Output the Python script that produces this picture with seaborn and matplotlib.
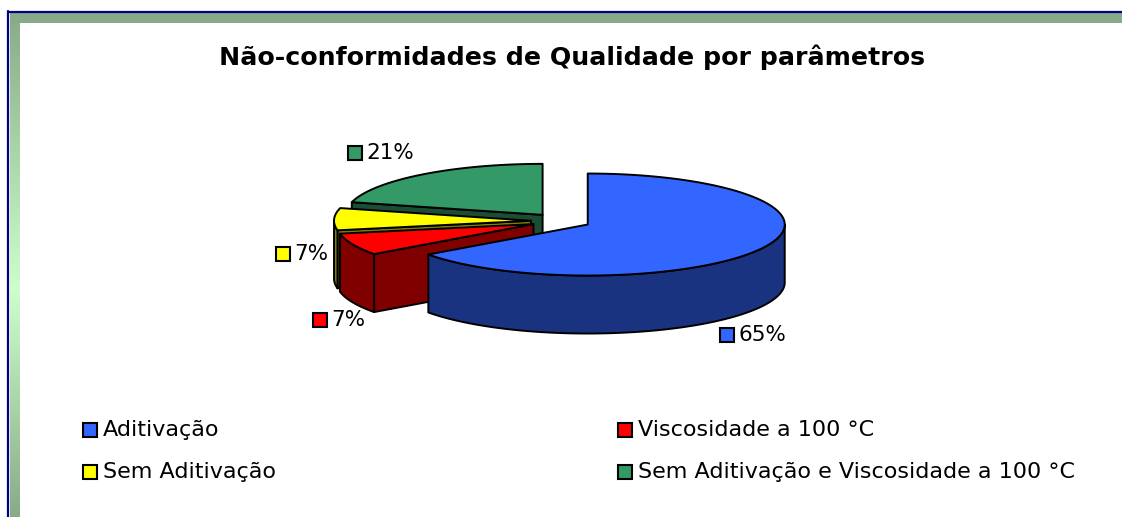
import numpy as np
import matplotlib
matplotlib.use("Agg")
import matplotlib.pyplot as plt
import seaborn as sns
from matplotlib.patches import Polygon, Rectangle

# chart data
categories = ["Aditivação", "Viscosidade a 100 °C", "Sem Aditivação",
              "Sem Aditivação e Viscosidade a 100 °C"]
shares = [65, 7, 7, 21]
top_colors = ["#3366FF", "#FF0000", "#FFFF00", "#339966"]
side_colors = ["#1A3380", "#800000", "#808000", "#1A4D33"]
title = "Não-conformidades de Qualidade por parâmetros"

sns.set_theme(style="white")
plt.rcParams["font.family"] = ["DejaVu Sans"]
plt.rcParams["text.color"] = "black"

W, H = 1122, 517
fig = plt.figure(figsize=(W / 100, H / 100), dpi=100)
ax = fig.add_axes([0, 0, 1, 1])

# --- frame (green bands with navy outline) ---
dark = np.array([0x88, 0xAA, 0x88]) / 255
light = np.array([0xCC, 0xFF, 0xCC]) / 255
ys = np.linspace(13, H, 300)
mid = 290
w = np.where(ys < mid, (ys - 13) / (mid - 13), (H - ys) / (H - mid))
col = dark[None, :] * (1 - w[:, None]) + light[None, :] * w[:, None]
ax.imshow(col[:, None, :], extent=[10, 20, H, 13], aspect="auto", zorder=1)
ax.add_patch(Rectangle((10, 13), W - 10, 10, color="#88AA88", lw=0, zorder=1))
ax.plot([8.5, 8.5], [11, H], color="#000080", lw=1.6, zorder=2)
ax.plot([8, W], [11.5, 11.5], color="#000080", lw=1.6, zorder=2)
ax.set_xlim(0, W)
ax.set_ylim(H, 0)
ax.axis("off")

ax.text(572, 57, title, ha="center", va="center", fontsize=18.2,
        fontweight="bold", color="black")

# --- 3D exploded pie ---
cx, cy = 561, 221      # common centre
rx, ry = 197, 51       # ellipse radii of top face
thick = 58             # depth of pie
explode = 30
k = ry / rx


def pt(x0, y0, deg):
    r = np.radians(deg)
    return x0 + rx * np.sin(r), y0 - ry * np.cos(r)


total = sum(shares)
starts = np.cumsum([0] + shares[:-1]) / total * 360
ends = np.cumsum(shares) / total * 360
mids = (starts + ends) / 2

order = np.argsort(-np.cos(np.radians(mids)))
edge = dict(edgecolor="black", lw=1.4, joinstyle="round")
for i in order:
    a, b, m = starts[i], ends[i], mids[i]
    mr = np.radians(m)
    x0 = cx + explode * np.sin(mr)
    y0 = cy - explode * k * np.cos(mr)
    # cut faces facing viewer
    for ang, vis in ((a, np.sin(np.radians(a)) < -1e-6),
                     (b, np.sin(np.radians(b)) > 1e-6)):
        if vis:
            px, py = pt(x0, y0, ang)
            ax.add_patch(Polygon([(x0, y0), (px, py), (px, py + thick), (x0, y0 + thick)],
                                 closed=True, facecolor=side_colors[i], zorder=3, **edge))
    # outer wall (front half only)
    wa, wb = max(a, 90), min(b, 270)
    if wb > wa:
        th = np.linspace(wa, wb, 80)
        xs, yt = pt(x0, y0, th)
        wall = list(zip(xs, yt)) + list(zip(xs[::-1], yt[::-1] + thick))
        ax.add_patch(Polygon(wall, closed=True, facecolor=side_colors[i], zorder=3, **edge))
    # top face
    th = np.linspace(a, b, 120)
    xs, yt = pt(x0, y0, th)
    ax.add_patch(Polygon([(x0, y0)] + list(zip(xs, yt)), closed=True,
                         facecolor=top_colors[i], zorder=3, **edge))

# --- data labels (layout: centre of each label box, in pixels) ---
label_centres = [(753, 335), (339, 320), (302, 254), (381, 153)]
fig.canvas.draw()
renderer = fig.canvas.get_renderer()
sq = 14
for i, (lx, ly) in enumerate(label_centres):
    t = ax.text(0, ly, f"{shares[i]}%", ha="left", va="center", fontsize=15.5, zorder=4)
    tw = t.get_window_extent(renderer).width
    x_start = lx - (sq + 4 + tw) / 2
    t.set_x(x_start + sq + 4)
    ax.add_patch(Rectangle((x_start, ly - sq / 2), sq, sq, facecolor=top_colors[i],
                           edgecolor="black", lw=1.5, zorder=4))

# --- legend (two columns, row-wise like the original) ---
leg_x = [83, 618]
leg_y = [430, 472]
for i, name in enumerate(categories):
    x = leg_x[i % 2]
    y = leg_y[i // 2]
    ax.add_patch(Rectangle((x, y - 7), 14, 14, facecolor=top_colors[i],
                           edgecolor="black", lw=1.5, zorder=4))
    ax.text(x + 20, y, name, ha="left", va="center", fontsize=16, zorder=4)

fig.savefig("out.png", dpi=100)
